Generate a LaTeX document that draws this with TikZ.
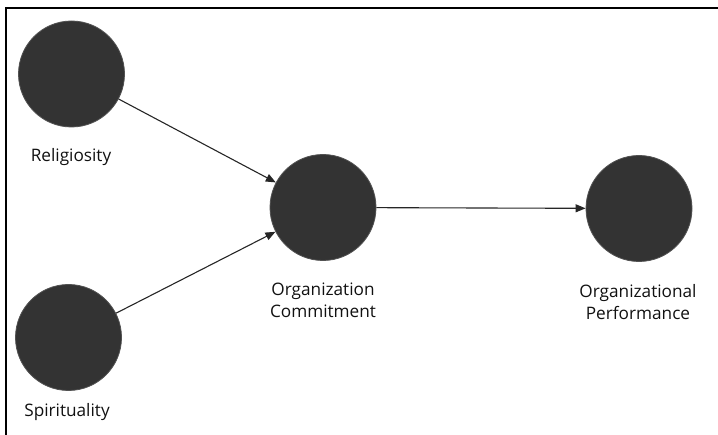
\documentclass[tikz,border=0pt]{standalone}
\usepackage{fontspec}
\setmainfont{Open Sans}
\usetikzlibrary{arrows.meta}
\definecolor{circfill}{HTML}{333333}
\definecolor{txt}{HTML}{111111}
\begin{document}
\begin{tikzpicture}[x=1pt,y=-1pt,
  latent/.style={circle,fill=circfill,draw=circfill!85!white,line width=0.8pt,minimum size=106pt,inner sep=0pt},
  lbl/.style={align=center,text=txt,font=\fontsize{17.2}{21.5}\selectfont,inner sep=0pt},
  path/.style={line width=1.1pt,draw=black!85,-{Triangle[length=10pt,width=8pt]}},
  frame/.style={line width=1.6pt,draw=black}]
\useasboundingbox (0,0) rectangle (718,435);
\draw[frame] (6,436) coordinate (fb) -- (6,8) coordinate (fc) -- (719,8) coordinate (fr);
\node[latent] (rel) at (71.5,74) {};
\node[latent] (spi) at (68.5,337.5) {};
\node[latent] (oc) at (323,207.5) {};
\node[latent] (op) at (639,208.5) {};
\node[lbl] (lrel) at (71,157) {Religiosity};
\node[lbl] (lspi) at (67,412) {Spirituality};
\node[lbl] (loc) at (323,300.5) {Organization\\Commitment};
\node[lbl] (lop) at (638,302) {Organizational\\Performance};
\draw[path] (rel) -- (oc);
\draw[path] (spi) -- (oc);
\draw[path] (oc) -- (op);
\end{tikzpicture}
\end{document}
